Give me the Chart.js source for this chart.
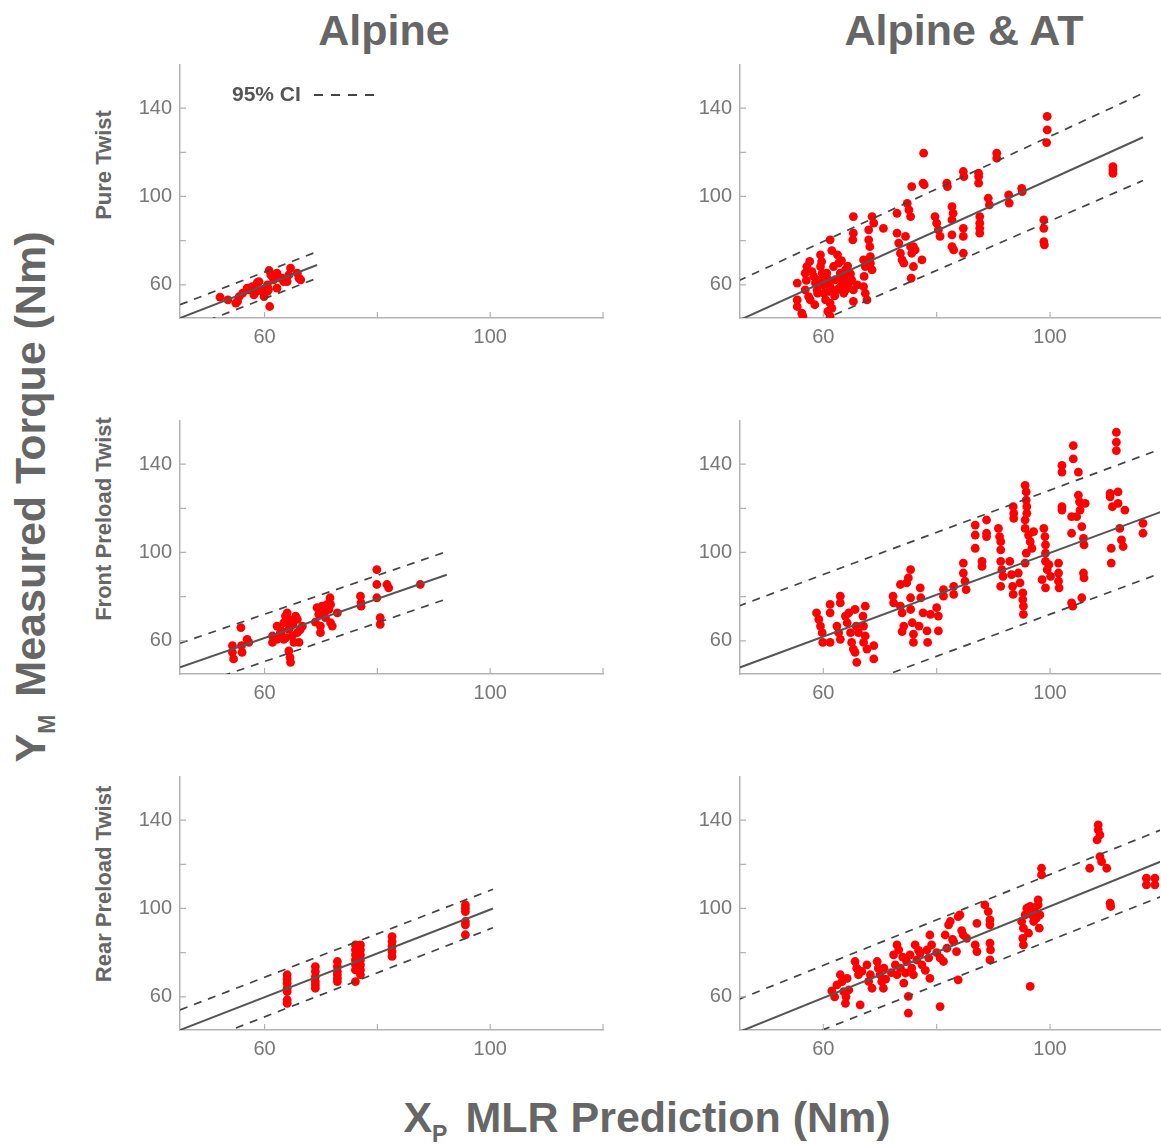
<!DOCTYPE html>
<html lang="en">
<head>
<meta charset="UTF-8">
<script src="https://cdn.jsdelivr.net/npm/chart.js"></script>
<style>
  html, body { margin: 0; padding: 0; background: #fff; overflow: hidden; }
  body { width: 1161px; height: 1145px; position: relative; font-family: "Liberation Sans", Arial, sans-serif; color: #666; }
  canvas { position: absolute; }
  .title { position: absolute; font-weight: bold; text-align: center; white-space: nowrap; }
  .col { top: 9px; width: 400px; font-size: 43px; line-height: 43px; }
  .row { width: 260px; height: 24px; font-size: 22px; line-height: 24px; transform: rotate(-90deg); }
  .big { width: 640px; height: 46px; font-size: 43px; line-height: 46px; }
  .big sub { font-size: 23px; vertical-align: -10px; margin-right: 18px; }
  #legend { position: absolute; left: 232px; top: 83px; font-weight: bold; font-size: 21px; line-height: 22px; color: #555; }
  #legend svg { vertical-align: middle; margin-left: 12px; }
</style>
</head>
<body>
<script>
    // axis ticks and panel titles
    const tickValues = [60, 80, 100, 120, 140]
    const labelledTicks = [60, 100, 140]
    const columnTitles = ['Alpine', 'Alpine & AT']
    const rowTitles = ['Pure Twist', 'Front Preload Twist', 'Rear Preload Twist']

    // [MLR prediction, measured torque] in Nm
    const alpinePure = [[52.1,54.4],[53.5,53.2],[55.2,52.5],[55.5,54.7],[54.9,51.7],[56.1,56.2],[56.9,58.5],[57.2,57.7],[57.8,59.2],[58.7,61],[58.1,55.5],[58.6,57],[59,61.5],[59.6,57.7],[59.9,56.2],[59.9,54.7],[60.5,57],[60.9,50.2],[60.8,66.5],[61.1,64.5],[61.6,62.3],[60.5,60],[60.7,58],[62.2,65.3],[62.8,63],[63.4,61.5],[62.2,58.5],[64.6,67.6],[64.3,64.5],[64,61.5],[65.8,65.3],[66.1,63],[66.4,62.3],[63.1,63],[61.4,63.8]]
    const alpineAtPure = [[55.4,60.8],[55.4,53.2],[55.4,50.2],[56.2,47.2],[56.4,45.7],[56.8,65.3],[57.1,68.3],[57.6,70.6],[56.8,57.7],[57.4,54.7],[57.7,53.2],[58.3,63.8],[58.6,60.8],[58.9,57.7],[59,56.2],[59.5,73.6],[59.5,68.3],[59.8,65.3],[60.1,56.2],[60.4,53.2],[60.6,65.3],[60.9,62.3],[61.2,59.2],[61.2,80.4],[61.2,45.7],[61.2,51.7],[61.5,49.4],[61.8,68.3],[62.1,62.3],[62.4,57.7],[62.5,73.6],[62.7,69.8],[63,65.3],[63.3,60.8],[63.6,56.2],[63.9,66.8],[64.2,63.8],[64.5,60.8],[65,62.3],[65.3,57.7],[65.3,52.5],[65.3,90.9],[65.3,83.4],[65.2,80.4],[67.1,71.3],[67.4,68.3],[67.2,63.8],[67.1,59.2],[67.4,56.2],[67.7,53.2],[68,80.4],[68,84.9],[68.2,77.3],[68.3,72.8],[68.6,90.9],[68.9,87.9],[68.6,66.8],[68.3,69.8],[70.6,85.6],
      [57,62],[58,66],[59.2,62],[60,60],[60.3,63],[61,57],[62,55],[62.8,58.5],[63.5,63],[64,58],[64.8,65],[66,60],[58.5,51],[60.8,48],[59.7,70.5],[63.2,71],[61.5,75.5],[64.3,68.5],
      [73,92.4],[73,83.4],[73.3,78.9],[73.6,74.3],[73.9,71.3],[74.2,69.8],[74.5,81.9],[74.8,96.9],[75.1,93.9],[75.4,90.9],[75.6,104.5],[75.4,77.3],[75.6,74.3],[75.9,77.3],[76.2,75.8],[75.9,68.3],[75.5,63],[77.4,71.3],[77.6,106],[77.7,119.6],[77.8,105.3],
      [79.7,90.9],[80,87.9],[80.3,84.9],[80.6,81.9],[81.8,106],[81.9,104.5],[82.7,95.4],[82.9,92.4],[82.7,89.4],[82.7,82.6],[82.7,77.3],[83,75.8],[84.7,111.3],[84.8,109],[84.7,85.6],[84.7,81.9],[84.7,74.3],[87.4,109],[87.4,106],[87.4,110.5],[87.6,90.9],[87.6,87.9],[87.6,85.6],[87.6,83.4],[89.1,99.2],[89.3,96.2],[90.6,119.6],[90.6,117.3],[92.7,100.7],[92.8,97],[95,103.7],[95.1,102.2],[98.9,89.4],[98.9,85.6],[98.9,79.6],[99,78.1],[99.5,136.2],[99.5,130.1],[99.4,124.4],[111.1,113.5],[111.1,112],[111.1,110.5]]
    const alpineFront = [[54.3,57.8],[54.3,54.8],[54.5,51.8],[55.8,66],[55.9,57.8],[56,54.8],[56.9,60.7],[57.2,59.3],[61.4,62.2],[61.4,59.3],[62.2,60.7],[62.2,66.7],[62.8,63.7],[63.4,60.7],[63.4,68.2],[63.7,71.2],[64,72.7],[64.3,69.7],[64.3,65.2],[64.6,66.7],[64.9,62.2],[65.2,59.3],[65.5,71.2],[64.3,55.5],[64.5,52.5],[64.6,50.3],[65.8,69.7],[65.8,63.7],[66.1,59.3],[66.7,66.7],[69.3,75],[69.6,72],[69.9,66.7],[69.9,63.7],[70.2,75.7],[70.5,72.7],[71.1,76.5],[71.4,74.2],[71.6,79.5],[71.7,76.5],[72,66.7],[72.9,72.7],[71.7,68.2],[77,80.2],[77.1,77.2],[77.1,75.7],[79.9,92.2],[79.9,85.5],[79.9,79.5],[80.5,70.5],[80.5,67.5],[81.7,85.5],[82,84],[87.6,85.5],[63,64.5],[65,67.5],[63.8,61.5],[66.3,65],[70.8,70.5],[69,68.5]]
    const alpineAtFront = [[58.8,72.7],[59.2,69.7],[59.5,66.7],[59.8,63.7],[59.9,59.3],[61.2,76.5],[61.2,72.7],[61.2,59.3],[63,80.2],[63,77.2],[62.4,66.7],[62.7,63.7],[63,60.7],[63.9,71.2],[64.2,68.2],[64.5,72.7],[64.8,63.7],[65,59.3],[65.3,56.3],[65.6,54.8],[65.9,50.3],[65.6,74.2],[65.8,66.7],[66.2,63.7],[67,71.2],[67.1,66.7],[67.4,75.7],[67.4,62.2],[67.1,59.3],[67.7,56.3],[68.9,57.8],[68.9,51.8],
      [72.3,80.2],[72.4,77.2],[73.6,75.7],[73.9,72.7],[74.2,66.7],[73.9,64.2],[73.6,85.5],[74.7,86.2],[75,88.5],[75.4,92.2],[75.4,79.5],[75.4,74.2],[75.7,68.2],[75.9,63],[75.9,59.3],[76.9,66.7],[77.1,84],[77.2,79.5],[77.6,72.7],[78.3,64.5],[78.4,59.3],[78.9,72],[80,75],[80.3,71.2],[80.3,64.5],[81.2,83.2],[81.2,80.2],[83,84.7],[83,81],[84.7,95.2],[84.7,90.7],[85,87],[85.2,83.2],
      [86.8,112.4],[86.8,107.9],[86.8,101.9],[88,96],[88,93.7],[88.8,114.7],[88.8,108.7],[88.8,107.2],[90.9,110.9],[91.1,107.2],[91.3,104.9],[91.3,101.2],[91.3,96],[91.5,92.2],[91.7,89.2],[91.3,84.7],[92.9,96],[93.2,90],[93.4,84.7],[93.5,81],[93.5,120.7],[93.6,117.7],[93.6,115.4],[94.4,90.7],[94.7,86.2],[95.2,81.7],[95.2,78.7],[95.3,75.7],[95.3,72],[95.6,130.4],[95.8,127.4],[95.8,123.7],[95.9,120.7],[95.9,117.7],[95.6,114.7],[95.6,110.9],[95.6,95.2],[95.8,99.7],[96.2,107.9],[96.5,104.9],[96.8,101.9],[97.1,109.4],[98.9,110.9],[99.1,107.2],[99.2,103.4],[99.2,99.7],[99.2,96],[99.5,92.2],[98.6,87.7],[99.2,84],[99.8,94.5],[100.1,89.2],
      [101.5,95.2],[101.5,90.7],[101.5,87],[101.6,84],[102.1,139.4],[102.1,136.4],[102.1,120.7],[102.1,119.2],[103.8,108.7],[103.8,116.2],[103.8,77.2],[104,75.7],[104.1,148.4],[104.1,142.4],[105,136.4],[105,125.9],[105.2,122.9],[105.3,119.2],[104.7,116.2],[105.6,79.5],[105.6,111.7],[105.9,106.4],[106,103.4],[105.9,90.7],[106,88.5],[106.2,122.2],[110.6,126.7],[110.6,125.2],[111,120.7],[111.7,154.4],[111.7,149.9],[111.7,146.1],[112,127.4],[112,122.2],[110.8,101.9],[110.8,95.2],[112.3,110.9],[112.6,105.7],[112.9,102.7],[113.2,119.2],[116.4,113.2],[116.4,108.7]]
    const alpineRear = [[64,70],[64,68.1],[64,66.2],[64,63.9],[64,62.4],[64,58.6],[64,57.1],[69,73.7],[69,71.5],[69,69.2],[69,66.9],[69,65.4],[69,63.9],[72.9,76],[72.9,73.7],[72.9,71.5],[72.9,70],[72.9,68.4],[72.9,66.9],[76.1,83.5],[76.1,81.3],[76.1,79],[76.1,76.7],[76.1,74.5],[76.1,72.2],[76.1,66.9],[77,83.5],[77,81.3],[77,79],[77,76.7],[77,74.5],[77,72.2],[77,70],[82.6,87.3],[82.6,85],[82.6,82.8],[82.6,80.5],[82.6,78.3],[95.6,101.6],[95.6,100.1],[95.6,98.6],[95.6,94.1],[95.6,92.6],[95.6,88.1]]
    const alpineAtRear = [[61.5,62.7],[62.4,65.4],[63,70],[63.3,66.9],[63.6,62.4],[63.9,57.1],[64.2,68.4],[64.5,63.1],[65.6,76],[65.9,73],[66.2,70],[66.5,56.4],[67.7,74.5],[68.3,70],[68.6,63.9],[69.5,76],[69.7,73],[70,70],[70.3,66.9],[70.6,63.9],[70.7,73],
      [72.4,79],[72.7,74.5],[73,83.5],[73.3,81.3],[73,70],[73.6,73],[74.2,66.2],[74.5,70.8],[74.7,76],[75,60.2],[75,52.6],[75.3,79],[75.6,73],[75.9,70],[76.2,83.5],[76.5,76.7],[77.1,79.8],[77.4,74.5],[78.3,81.3],[78.6,77.6],[78.8,88],[79.1,83.5],[78.8,68.4],[80.6,55.6],
      [80.6,77.6],[81.2,76],[81.5,88],[81.8,82],[82.1,92.6],[82.4,94.1],[83,85],[83.5,80.5],[83.8,96.3],[84.1,97.1],[83.8,67.7],[84.7,88],[85.3,86.5],[86.8,83.5],[87.1,80.5],[87.1,93.3],[88.5,101.6],[89.1,98.6],[89.4,92.6],[89.4,94.8],[89.4,84.3],[89.5,81.3],[89.4,76.7],
      [62,60],[64,60],[66.8,71.5],[68,67],[71,68],[72,71],[74,78],[76.8,81],[78,72],[80,80],[82.8,86],[84.4,90],
      [95,94.1],[95.3,91.1],[95.2,86.5],[95.3,83.5],[95.6,97.1],[95.9,100.1],[96.2,88.8],[96.5,100.9],[96.8,97.1],[97.1,94.1],[97.4,98.6],[97.6,95.6],[97.9,103.9],[97.9,101.6],[98.2,97.1],[98.1,91.1],[96.5,64.7],[98.5,118.2],[98.5,115.2],
      [107,118.2],[108.5,137.8],[108.5,135.6],[108.8,133.3],[108.3,131],[108.8,123.5],[109.1,121.2],[110,118.2],[110.6,102.4],[110.7,100.9],[117,113.7],[117,110.7],[118.5,113.7],[118.5,110.7]]

    // regression line and 95% CI band, endpoints [prediction, measured]
    const alpinePureFit = [[45,45],[69.3,69]]
    const alpinePureUpper = [[45,51],[69.3,75]]
    const alpinePureLower = [[45,39],[69.3,63]]
    const alpineAtPureFit = [[45,43.8],[116.4,126.8]]
    const alpineAtPureUpper = [[45,61.8],[116.4,146.7]]
    const alpineAtPureLower = [[45,27.5],[116.4,107.2]]
    const alpineFrontFit = [[45,48],[92.3,89.9]]
    const alpineFrontUpper = [[45,58.9],[92.3,100.4]]
    const alpineFrontLower = [[45,37.5],[92.3,79]]
    const alpineAtFrontFit = [[45,47.7],[119.6,118.4]]
    const alpineAtFrontUpper = [[45,75.7],[119.6,146.9]]
    const alpineAtFrontLower = [[45,19.7],[119.6,90.7]]
    const alpineRearFit = [[45,45],[100.5,100]]
    const alpineRearUpper = [[45,54.1],[100.5,108.7]]
    const alpineRearLower = [[45,36],[100.5,91.3]]
    const alpineAtRearFit = [[45,44],[119.6,121.3]]
    const alpineAtRearUpper = [[45,58.8],[119.6,135.6]]
    const alpineAtRearLower = [[45,30],[119.6,105.4]]

    const panels = [
        { pts: alpinePure, fit: alpinePureFit, up: alpinePureUpper, lo: alpinePureLower, col: 0, row: 0 },
        { pts: alpineAtPure, fit: alpineAtPureFit, up: alpineAtPureUpper, lo: alpineAtPureLower, col: 1, row: 0 },
        { pts: alpineFront, fit: alpineFrontFit, up: alpineFrontUpper, lo: alpineFrontLower, col: 0, row: 1 },
        { pts: alpineAtFront, fit: alpineAtFrontFit, up: alpineAtFrontUpper, lo: alpineAtFrontLower, col: 1, row: 1 },
        { pts: alpineRear, fit: alpineRearFit, up: alpineRearUpper, lo: alpineRearLower, col: 0, row: 2 },
        { pts: alpineAtRear, fit: alpineAtRearFit, up: alpineAtRearUpper, lo: alpineAtRearLower, col: 1, row: 2 }
    ]

    // plot area geometry in page pixels
    const colLeft = [180, 740]
    const colWidth = [423, 420]
    const colX = [[45, 120], [45.3, 119.4]]
    const rowTop = [65, 421, 777]
    const areaHeight = 253
    const yAxisWidth = 60
    const xAxisHeight = 45
    const padTop = 10

    const font = '"Liberation Sans", Arial, sans-serif'
    const axisGrey = '#b3b3b3'

    const toXY = arr => arr.map(p => ({ x: p[0], y: p[1] }))

    // short tick marks pointing into the plot, Mathematica style
    const innerTicks = {
        id: 'innerTicks',
        afterDraw(chart) {
            const { ctx, chartArea, scales } = chart
            ctx.save()
            ctx.strokeStyle = axisGrey
            ctx.lineWidth = 1.2
            ctx.beginPath()
            tickValues.forEach(v => {
                if (v >= scales.x.min && v <= scales.x.max) {
                    const px = scales.x.getPixelForValue(v)
                    ctx.moveTo(px, chartArea.bottom)
                    ctx.lineTo(px, chartArea.bottom - 6)
                }
                if (v >= scales.y.min && v <= scales.y.max) {
                    const py = scales.y.getPixelForValue(v)
                    ctx.moveTo(chartArea.left, py)
                    ctx.lineTo(chartArea.left + 6, py)
                }
            })
            ctx.stroke()
            ctx.restore()
        }
    }

    function lineSet(points, dashed) {
        return {
            type: 'line',
            data: toXY(points),
            borderColor: dashed ? '#444' : '#555',
            borderWidth: dashed ? 1.7 : 2,
            borderDash: dashed ? [8, 7] : [],
            pointRadius: 0,
            order: 1
        }
    }

    function scaleOpts(range, axis) {
        return {
            type: 'linear',
            min: range[0],
            max: range[1],
            afterFit: s => {
                if (axis === 'x') s.height = xAxisHeight; else s.width = yAxisWidth
                // keep the plot box exactly where it is placed
                s.paddingTop = 0; s.paddingBottom = 0; s.paddingLeft = 0; s.paddingRight = 0
            },
            afterBuildTicks: s => { s.ticks = tickValues.filter(v => v >= range[0] && v <= range[1]).map(v => ({ value: v })) },
            ticks: {
                callback: v => labelledTicks.includes(v) ? String(v) : '',
                font: { family: font, size: 20 },
                color: '#777',
                padding: axis === 'x' ? 7 : 8,
                autoSkip: false,
                maxRotation: 0
            },
            grid: { display: false, drawTicks: false },
            border: { color: axisGrey, width: 1.5 }
        }
    }

    panels.forEach(p => {
        const left = colLeft[p.col] - yAxisWidth
        const top = rowTop[p.row] - padTop
        const w = yAxisWidth + colWidth[p.col] + 1
        const h = padTop + areaHeight + xAxisHeight
        const canvas = document.createElement('canvas')
        canvas.width = w
        canvas.height = h
        canvas.style.left = left + 'px'
        canvas.style.top = top + 'px'
        document.body.appendChild(canvas)

        new Chart(canvas, {
            type: 'scatter',
            data: {
                datasets: [
                    { data: toXY(p.pts), backgroundColor: '#ff0000', borderWidth: 0, pointRadius: 4.4, order: 2 },
                    lineSet(p.fit, false),
                    lineSet(p.up, true),
                    lineSet(p.lo, true)
                ]
            },
            options: {
                responsive: false,
                animation: false,
                events: [],
                layout: { padding: { top: padTop, right: 1, left: 0, bottom: 0 }, autoPadding: false },
                plugins: { legend: { display: false }, tooltip: { enabled: false } },
                scales: {
                    x: scaleOpts(colX[p.col], 'x'),
                    y: scaleOpts([45, 159.5], 'y')
                }
            },
            plugins: [innerTicks]
        })
    })

    // titles and labels
    function addText(cls, html, css) {
        const d = document.createElement('div')
        d.className = 'title ' + cls
        d.innerHTML = html
        Object.assign(d.style, css)
        document.body.appendChild(d)
    }
    const colCenter = [384, 964]
    columnTitles.forEach((t, i) => addText('col', t, { left: (colCenter[i] - 200) + 'px' }))
    const rowCenter = [165, 519, 884]
    rowTitles.forEach((t, i) => addText('row', t, { left: (104 - 130) + 'px', top: (rowCenter[i] - 12) + 'px' }))
    addText('big', 'Y<sub>M</sub>Measured Torque (Nm)', { left: (30 - 320) + 'px', top: (497 - 23) + 'px', transform: 'rotate(-90deg)' })
    addText('big', 'X<sub>P</sub>MLR Prediction (Nm)', { left: (647 - 320) + 'px', top: '1094px' })

    const legend = document.createElement('div')
    legend.id = 'legend'
    legend.innerHTML = '95% CI<svg width="64" height="6"><line x1="1" y1="3" x2="63" y2="3" stroke="#444" stroke-width="2" stroke-dasharray="9 8"/></svg>'
    document.body.appendChild(legend)
</script>
</body>
</html>
